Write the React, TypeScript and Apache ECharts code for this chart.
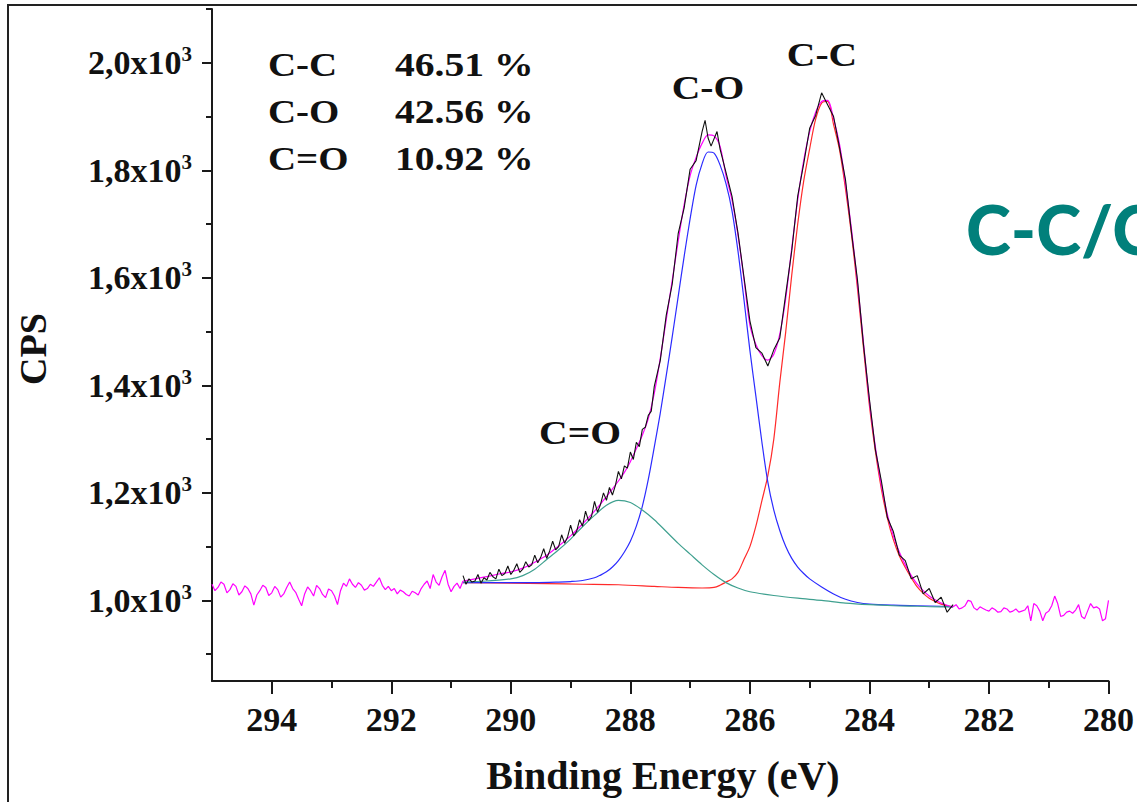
import React, { useEffect, useRef } from "react";
import * as echarts from "echarts";

// ---- axis ticks ----
const xMajorTicks = [280, 282, 284, 286, 288, 290, 292, 294];
const xMinorTicks = [281, 283, 285, 287, 289, 291, 293];
const yMajorTicks = [1000, 1200, 1400, 1600, 1800, 2000];
const yMinorTicks = [900, 1100, 1300, 1500, 1700, 1900, 2100];

// ---- composition table ----
const bondNames = ["C-C", "C-O", "C=O"];
const bondPercent = ["46.51 %", "42.56 %", "10.92 %"];

// ---- raw spectrum (black) [eV, CPS] ----
const rawData = [
  [290.8, 1046], [290.75, 1030], [290.7, 1040], [290.65, 1034], [290.6, 1036], [290.55, 1048],
  [290.5, 1032], [290.45, 1042], [290.4, 1038], [290.35, 1052], [290.3, 1044], [290.25, 1040],
  [290.2, 1058], [290.15, 1046], [290.1, 1050], [290.05, 1064], [290.0, 1048], [289.95, 1056],
  [289.9, 1068], [289.85, 1052], [289.8, 1058], [289.75, 1072], [289.7, 1062], [289.65, 1066],
  [289.6, 1084], [289.55, 1070], [289.5, 1080], [289.45, 1096], [289.4, 1078], [289.35, 1092],
  [289.3, 1110], [289.25, 1094], [289.2, 1100], [289.15, 1122], [289.1, 1106], [289.05, 1118],
  [289.0, 1140], [288.95, 1120], [288.9, 1128], [288.85, 1150], [288.8, 1138], [288.75, 1166],
  [288.7, 1148], [288.65, 1156], [288.6, 1184], [288.55, 1164], [288.5, 1178], [288.45, 1200],
  [288.4, 1186], [288.35, 1210], [288.3, 1196], [288.25, 1214], [288.2, 1240], [288.15, 1226],
  [288.1, 1250], [288.05, 1246], [288.0, 1276], [287.95, 1262], [287.9, 1294], [287.85, 1286],
  [287.8, 1318], [287.75, 1322], [287.7, 1344], [287.65, 1352], [287.6, 1398], [287.5, 1446],
  [287.4, 1530], [287.3, 1588], [287.2, 1682], [287.1, 1730], [287.0, 1802], [286.9, 1818],
  [286.8, 1872], [286.75, 1893], [286.7, 1860], [286.65, 1845], [286.55, 1872], [286.5, 1840],
  [286.4, 1796], [286.3, 1752], [286.2, 1684], [286.1, 1602], [286.0, 1520], [285.9, 1470],
  [285.8, 1460], [285.7, 1436], [285.6, 1466], [285.5, 1488], [285.4, 1570], [285.3, 1650],
  [285.2, 1752], [285.1, 1812], [285.0, 1878], [284.9, 1902], [284.8, 1944], [284.7, 1922],
  [284.6, 1900], [284.5, 1842], [284.4, 1782], [284.3, 1684], [284.2, 1596], [284.1, 1476],
  [284.0, 1374], [283.9, 1280], [283.8, 1222], [283.7, 1154], [283.6, 1128], [283.5, 1084],
  [283.4, 1074], [283.3, 1040], [283.2, 1046], [283.1, 1012], [283.0, 1022], [282.9, 996],
  [282.8, 1006], [282.7, 978], [282.6, 992],
];

// ---- fitted envelope (magenta) ----
const envelopeLeftNoise = [
  [295.0, 1030], [294.95, 1018], [294.9, 1024], [294.85, 1034], [294.8, 1030], [294.75, 1014],
  [294.7, 1020], [294.65, 1031], [294.6, 1026], [294.55, 1010], [294.5, 1016], [294.45, 1027],
  [294.4, 1022], [294.35, 1012], [294.3, 991], [294.25, 1010], [294.2, 1018], [294.15, 1028],
  [294.1, 1024], [294.05, 1009], [294.0, 1014], [293.95, 1026], [293.9, 1020], [293.85, 1006],
  [293.8, 1012], [293.75, 1024], [293.7, 1034], [293.65, 1022], [293.6, 1015], [293.55, 1002],
  [293.5, 990], [293.45, 1012], [293.4, 1025], [293.35, 1018], [293.3, 1008], [293.25, 1028],
  [293.2, 1022], [293.15, 1011], [293.1, 1005], [293.05, 1021], [293.0, 1018], [292.95, 1008],
  [292.9, 992], [292.85, 1018], [292.8, 1032], [292.75, 1026], [292.7, 1040], [292.65, 1030],
  [292.6, 1024], [292.55, 1033], [292.5, 1028], [292.45, 1019], [292.4, 1022], [292.35, 1030],
  [292.3, 1026], [292.25, 1034], [292.2, 1042], [292.15, 1028], [292.1, 1020], [292.05, 1026],
  [292.0, 1018], [291.95, 1022], [291.9, 1012], [291.85, 1019], [291.8, 1016], [291.75, 1011],
  [291.7, 1008], [291.65, 1017], [291.6, 1014], [291.55, 1010], [291.5, 1022], [291.45, 1030],
  [291.4, 1036], [291.35, 1022], [291.3, 1048], [291.25, 1034], [291.2, 1028], [291.15, 1044],
  [291.1, 1056], [291.05, 1030], [291.0, 1016], [290.95, 1026], [290.9, 1032], [290.85, 1022],
  [290.8, 1036],
];
const envelopeFit = [
  [290.8, 1036], [290.6, 1040], [290.4, 1044], [290.2, 1049], [290.0, 1053], [289.8, 1060],
  [289.6, 1071], [289.4, 1084], [289.2, 1101], [289.0, 1120], [288.8, 1142], [288.6, 1166],
  [288.4, 1193], [288.2, 1222], [288.1, 1238], [288.0, 1258], [287.9, 1282], [287.8, 1307],
  [287.7, 1338], [287.6, 1385], [287.5, 1450], [287.4, 1522], [287.3, 1595], [287.2, 1668],
  [287.1, 1736], [287.0, 1790], [286.9, 1824], [286.8, 1850], [286.7, 1866], [286.6, 1864],
  [286.5, 1845], [286.4, 1790], [286.3, 1745], [286.2, 1680], [286.1, 1598], [286.0, 1512],
  [285.9, 1476], [285.8, 1455], [285.7, 1447], [285.6, 1458], [285.5, 1495], [285.4, 1562],
  [285.3, 1655], [285.2, 1745], [285.1, 1818], [285.0, 1872], [284.9, 1908], [284.8, 1928],
  [284.7, 1930], [284.6, 1896], [284.5, 1848], [284.4, 1775], [284.3, 1690], [284.2, 1590],
  [284.1, 1480], [284.0, 1370], [283.9, 1285], [283.8, 1215], [283.7, 1160], [283.6, 1120],
  [283.5, 1090], [283.4, 1066], [283.3, 1046], [283.2, 1030], [283.1, 1018], [283.0, 1008],
  [282.9, 1001], [282.8, 995], [282.7, 991], [282.6, 988],
];
const envelopeRightNoise = [
  [282.6, 988], [282.55, 992], [282.5, 984], [282.45, 986], [282.4, 990], [282.35, 1000],
  [282.3, 998], [282.25, 986], [282.2, 982], [282.15, 988], [282.1, 985], [282.05, 982],
  [282.0, 980], [281.95, 986], [281.9, 983], [281.85, 978], [281.8, 979], [281.75, 986],
  [281.7, 984], [281.65, 978], [281.6, 980], [281.55, 984], [281.5, 978], [281.45, 980],
  [281.4, 982], [281.35, 990], [281.3, 962], [281.25, 994], [281.2, 990], [281.15, 980],
  [281.1, 962], [281.05, 976], [281.0, 980], [280.95, 990], [280.9, 1008], [280.85, 994],
  [280.8, 970], [280.75, 972], [280.7, 978], [280.65, 980], [280.6, 976], [280.55, 982],
  [280.5, 992], [280.45, 970], [280.4, 966], [280.35, 980], [280.3, 994], [280.25, 986],
  [280.2, 988], [280.15, 984], [280.1, 962], [280.05, 966], [280.0, 1000],
];

// ---- component peaks ----
const peakCO = [
  [290.8, 1033], [290.4, 1033], [290.0, 1033], [289.6, 1033], [289.2, 1034], [289.0, 1035],
  [288.8, 1037], [288.6, 1042], [288.5, 1047], [288.4, 1053], [288.3, 1062], [288.2, 1074],
  [288.1, 1090], [288.0, 1110], [287.9, 1138], [287.8, 1175], [287.7, 1225], [287.6, 1285],
  [287.5, 1348], [287.4, 1418], [287.3, 1490], [287.2, 1565], [287.1, 1640], [287.0, 1710],
  [286.9, 1772], [286.8, 1812], [286.7, 1834], [286.6, 1832], [286.5, 1810], [286.4, 1775],
  [286.3, 1725], [286.2, 1650], [286.1, 1560], [286.0, 1465], [285.9, 1380], [285.8, 1295],
  [285.7, 1220], [285.6, 1168], [285.5, 1130], [285.4, 1100], [285.3, 1078], [285.2, 1062],
  [285.1, 1050], [285.0, 1040], [284.8, 1025], [284.6, 1012], [284.4, 1002], [284.2, 996],
  [284.0, 993], [283.6, 991], [283.2, 990], [282.8, 989], [282.6, 988],
];
const peakCC = [
  [290.8, 1033], [290.0, 1032], [289.4, 1031], [288.8, 1030], [288.2, 1029], [287.6, 1026],
  [287.2, 1024], [286.8, 1023], [286.6, 1024], [286.5, 1028], [286.4, 1034], [286.3, 1040],
  [286.2, 1052], [286.1, 1076], [286.0, 1100], [285.9, 1138], [285.8, 1185], [285.7, 1232],
  [285.6, 1300], [285.5, 1405], [285.4, 1500], [285.3, 1605], [285.2, 1700], [285.1, 1780],
  [285.0, 1840], [284.9, 1895], [284.8, 1925], [284.7, 1928], [284.6, 1885], [284.5, 1838],
  [284.4, 1765], [284.3, 1680], [284.2, 1580], [284.1, 1470], [284.0, 1362], [283.9, 1277],
  [283.8, 1207], [283.7, 1153], [283.6, 1113], [283.5, 1083], [283.4, 1061], [283.3, 1042],
  [283.2, 1025], [283.1, 1013], [283.0, 1004], [282.9, 998], [282.8, 993], [282.7, 990],
  [282.6, 988],
];
const peakCdO = [
  [290.8, 1034], [290.4, 1036], [290.0, 1040], [289.8, 1046], [289.6, 1058], [289.4, 1076],
  [289.2, 1094], [289.0, 1114], [288.8, 1137], [288.6, 1158], [288.4, 1177], [288.2, 1186],
  [288.0, 1182], [287.8, 1168], [287.6, 1150], [287.4, 1128], [287.2, 1106], [287.0, 1086],
  [286.8, 1066], [286.6, 1048], [286.4, 1033], [286.2, 1023], [286.0, 1016], [285.6, 1009],
  [285.2, 1004], [284.8, 1000], [284.4, 995], [284.0, 992], [283.6, 990], [283.2, 989],
  [282.8, 988], [282.6, 988],
];

const SERIF = "'Liberation Serif', 'Times New Roman', serif";
const AXIS_COLOR = "#1a1a1a";

function yLabel(v: number): string {
  const m = (v / 1000).toFixed(1).replace(".", ",");
  return `{a|${m}x10}{b|3}`;
}

export default function App() {
  const ref = useRef<HTMLDivElement>(null);
  useEffect(() => {
    if (!ref.current) return;
    const chart = echarts.init(ref.current, undefined, { renderer: "svg" });
    const lineSeries = (name: string, data: number[][], color: string, smooth: boolean | number, z: number, width = 1.2) => ({
      name,
      type: "line",
      data,
      xAxisIndex: 0,
      yAxisIndex: 0,
      symbol: "none",
      showSymbol: false,
      smooth,
      z,
      lineStyle: { color, width },
      emphasis: { disabled: true },
    });
    const txt = (text: string, x: number, y: number, size: number, align = "left", extra: any = {}) => {
      const { style: extraStyle, ...rest } = extra;
      return {
        type: "text",
        x,
        y,
        z: 100,
        ...rest,
        style: {
          text,
          fontFamily: SERIF,
          fontSize: size,
          fontWeight: "bold",
          fill: "#111",
          align,
          verticalAlign: "middle",
          textAlign: align,
          textVerticalAlign: "middle",
          ...(extraStyle || {}),
        },
      };
    };
    const option: any = {
      animation: false,
      backgroundColor: "#ffffff",
      grid: { left: 212, right: 23, top: 9, bottom: 121, containLabel: false },
      xAxis: [
        {
          type: "value",
          min: 280,
          max: 295,
          interval: 2,
          inverse: true,
          position: "bottom",
          axisLine: { show: true, onZero: false, lineStyle: { color: AXIS_COLOR, width: 2 } },
          axisTick: { show: true, length: 13, customValues: xMajorTicks, lineStyle: { color: AXIS_COLOR, width: 2 } },
          axisLabel: {
            customValues: xMajorTicks,
            margin: 21,
            fontFamily: SERIF,
            fontSize: 34,
            fontWeight: "bold",
            color: "#111",
          },
          splitLine: { show: false },
        },
        {
          type: "value",
          min: 280,
          max: 295,
          interval: 2,
          inverse: true,
          position: "bottom",
          axisLine: { show: false, onZero: false },
          axisTick: { show: true, length: 7, customValues: xMinorTicks, lineStyle: { color: AXIS_COLOR, width: 2 } },
          axisLabel: { show: false },
          splitLine: { show: false },
        },
      ],
      yAxis: [
        {
          type: "value",
          min: 850,
          max: 2100,
          position: "left",
          axisLine: { show: true, onZero: false, lineStyle: { color: AXIS_COLOR, width: 2 } },
          axisTick: { show: true, length: 10, customValues: yMajorTicks, lineStyle: { color: AXIS_COLOR, width: 2 } },
          axisLabel: {
            customValues: yMajorTicks,
            margin: 20,
            formatter: yLabel,
            rich: {
              a: { fontFamily: SERIF, fontSize: 34, fontWeight: "bold", color: "#111", lineHeight: 38 },
              b: { fontFamily: SERIF, fontSize: 21, fontWeight: "bold", color: "#111", verticalAlign: "top", lineHeight: 38 },
            },
          },
          splitLine: { show: false },
        },
        {
          type: "value",
          min: 850,
          max: 2100,
          position: "left",
          axisLine: { show: false, onZero: false },
          axisTick: { show: true, length: 6, customValues: yMinorTicks, lineStyle: { color: AXIS_COLOR, width: 2 } },
          axisLabel: { show: false },
          splitLine: { show: false },
        },
      ],
      series: [
        lineSeries("C-C", peakCC, "#ff2a2a", 0.3, 2),
        lineSeries("C-O", peakCO, "#2b2bff", 0.3, 3),
        lineSeries("C=O", peakCdO, "#3fa08f", 0.3, 4),
        lineSeries("Fit", envelopeFit, "#ff00ff", 0.3, 5),
        lineSeries("Fit (low BE)", envelopeLeftNoise, "#ff00ff", false, 5),
        lineSeries("Fit (high BE)", envelopeRightNoise, "#ff00ff", false, 5),
        lineSeries("Raw", rawData, "#111111", false, 6, 1.1),
      ],
      graphic: [
        { type: "line", z: 50, shape: { x1: 8, y1: 5, x2: 8, y2: 802 }, style: { stroke: "#222", lineWidth: 2 } },
        { type: "line", z: 50, shape: { x1: 7, y1: 5, x2: 1137, y2: 5 }, style: { stroke: "#222", lineWidth: 2 } },
        ...bondNames.map((n, i) => txt(n, 268, 65 + i * 47, 33, "left", { scaleX: 1.18 })),
        ...bondPercent.map((p, i) => txt(p, 395, 65 + i * 47, 33, "left", { scaleX: 1.2 })),
        txt("C-O", 708, 88, 33, "center", { scaleX: 1.2 }),
        txt("C-C", 822, 55, 33, "center", { scaleX: 1.2 }),
        txt("C=O", 580, 433, 33, "center", { scaleX: 1.2 }),
        txt("Binding Energy (eV)", 663, 775, 40, "center"),
        txt("CPS", 33, 349, 38, "center", { rotation: Math.PI / 2 }),
        txt("C-C/C", 966, 228, 68, "left", {
          style: { fontFamily: "Lato, 'Open Sans', sans-serif", fontWeight: 900, fill: "#01807b" },
        }),
      ],
    };
    chart.setOption(option);
    return () => chart.dispose();
  }, []);
  return <div ref={ref} style={{ position: "fixed", left: 0, top: 0, width: 1137, height: 802 }} />;
}
